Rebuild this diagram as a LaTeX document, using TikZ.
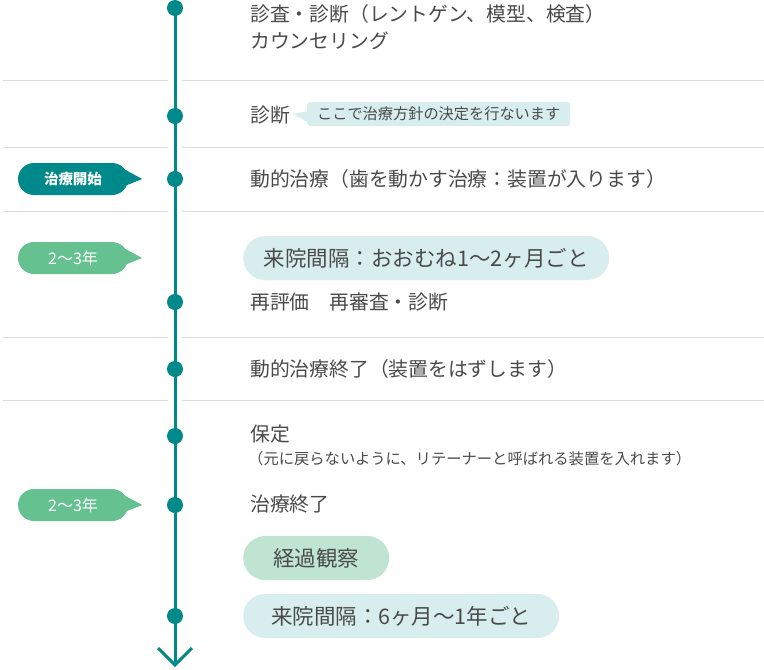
\documentclass[tikz,border=0pt]{standalone}
\usepackage{fontspec}
\setmainfont{Noto Sans CJK JP}
\usetikzlibrary{calc}
\definecolor{tealA}{HTML}{00898A}
\definecolor{txtA}{HTML}{4A4A4A}
\definecolor{sepA}{HTML}{DDDDDD}
\definecolor{greenA}{HTML}{66C191}
\definecolor{paleblue}{HTML}{D8EDED}
\definecolor{palegreen}{HTML}{BFE5D2}
\tikzset{
  dot/.style={circle,fill=tealA,minimum size=16pt,inner sep=0pt},
  maintext/.style={anchor=west,inner sep=0pt,text=txtA,font=\fontsize{19.8}{19.8}\selectfont},
  notetext/.style={anchor=west,inner sep=0pt,text=txtA,font=\fontsize{15.3}{15.3}\selectfont},
  sepline/.style={draw=sepA,line width=1pt},
  pill/.style={anchor=west,fill=#1,rounded corners=22pt,minimum height=44pt,inner sep=0pt,text=txtA,font=\fontsize{21.5}{21.5}\selectfont},
  sidelabel/.style={fill=#1,rounded corners=16pt,minimum width=110pt,minimum height=32pt,inner sep=0pt,text=white},
  tlline/.style={draw=tealA,line width=3pt},
}
\begin{document}
\begin{tikzpicture}[x=1pt,y=-1pt]
\useasboundingbox[fill=white] (0,0) rectangle (764,670);
% separators
\foreach \yy in {80,147,211,337,400}{
  \draw[sepline] (3,\yy) -- (168,\yy);
  \draw[sepline] (182,\yy) -- (764,\yy);
}
% timeline
\coordinate (top) at (175,8);
\coordinate (bot) at (175,665);
\coordinate (chl) at (158,648);
\coordinate (chr) at (192,648);
\draw[tlline] (top) -- (bot);
\draw[tlline,line join=miter] (chl) -- (bot) -- (chr);
\foreach \n/\yy in {1/8,2/116,3/179,4/302,5/369,6/436,7/505,8/616}{
  \node[dot] (d\n) at (175,\yy) {};
}
% texts
\node[maintext] (t1) at (250,14) {診査・診断（レントゲン、模型、検査）};
\node[maintext] (t1b) at (250,41) {カウンセリング};
\node[maintext] (t2) at (250,115) {診断};
\node[anchor=west,fill=paleblue,rounded corners=3pt,minimum height=24pt,minimum width=263pt,inner sep=0pt,text=txtA,font=\fontsize{15.2}{15.2}\selectfont] (b1) at (307,114) {ここで治療方針の決定を行ないます};
\fill[paleblue] ($(b1.west)+(2,-3)$) -- ($(b1.west)+(-14,0)$) -- ($(b1.west)+(2,9)$) -- cycle;
\node[maintext] (t3) at (250,179) {動的治療（歯を動かす治療：装置が入ります）};
\node[pill=paleblue,minimum width=366pt] (p1) at (243,258) {来院間隔：おおむね1〜2ヶ月ごと};
\node[maintext] (t4) at (250,302) {再評価　再審査・診断};
\node[maintext] (t5) at (250,369) {動的治療終了（装置をはずします）};
\node[maintext] (t6) at (250,434) {保定};
\node[notetext] (t6b) at (248,459) {（元に戻らないように、リテーナーと呼ばれる装置を入れます）};
\node[maintext] (t7) at (250,504) {治療終了};
\node[pill=palegreen,minimum width=146pt] (p2) at (243,558) {経過観察};
\node[pill=paleblue,minimum width=316pt] (p3) at (243,616) {来院間隔：6ヶ月〜1年ごと};
% side labels
\node[sidelabel=tealA,font=\fontsize{14.5}{14.5}\selectfont\bfseries] (l1) at (73,179) {治療開始};
\node[sidelabel=greenA,font=\fontsize{16}{16}\selectfont] (l2) at (73,258) {2〜3年};
\node[sidelabel=greenA,font=\fontsize{16}{16}\selectfont] (l3) at (73,505) {2〜3年};
\foreach \l/\c in {l1/tealA,l2/greenA,l3/greenA}{
  \fill[\c] ($(\l.east)+(-10,-13)$) -- ($(\l.east)+(14,0)$) -- ($(\l.east)+(-6,8)$) -- cycle;
}
\end{tikzpicture}
\end{document}
